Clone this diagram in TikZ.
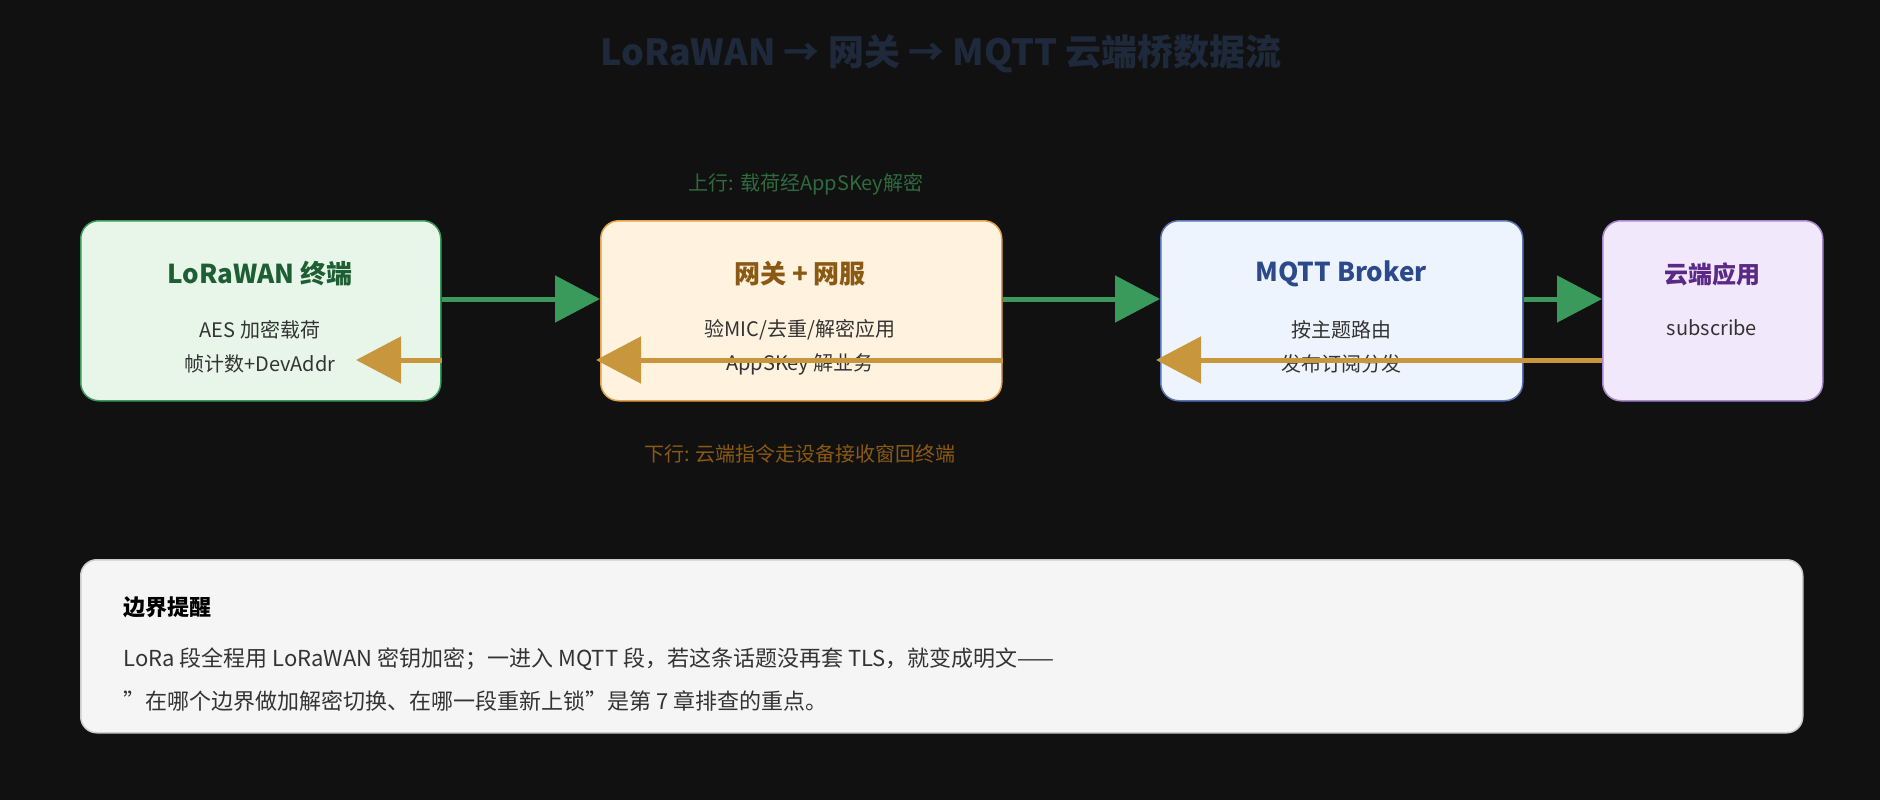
\documentclass[tikz,border=0pt]{standalone}
\usepackage{fontspec}
\setmainfont{Noto Sans CJK SC}
\usetikzlibrary{arrows.meta}
\definecolor{bg}{HTML}{111111}
\definecolor{ttl}{HTML}{1E293B}
\definecolor{txt}{HTML}{333333}
\definecolor{gA}{HTML}{E8F6EA}\definecolor{gB}{HTML}{3A9A5C}\definecolor{gC}{HTML}{1D5E32}
\definecolor{oA}{HTML}{FFF2DF}\definecolor{oB}{HTML}{E2A24A}\definecolor{oC}{HTML}{8A5A14}
\definecolor{bA}{HTML}{EEF4FD}\definecolor{bB}{HTML}{5A74B4}\definecolor{bC}{HTML}{2C4A8A}
\definecolor{pA}{HTML}{F1E8FB}\definecolor{pB}{HTML}{A888CC}\definecolor{pC}{HTML}{5B2A86}
\definecolor{up}{HTML}{3A9A5C}\definecolor{dn}{HTML}{C8963C}
\definecolor{upT}{HTML}{2E6B3E}\definecolor{dnT}{HTML}{8A5A14}
\tikzset{
 box/.style={draw, line width=1.5pt, rounded corners=18pt, anchor=north west, inner sep=0pt},
 upar/.style={draw=up, line width=5pt, -{Triangle[length=45pt,width=46pt]}},
 dnar/.style={draw=dn, line width=5pt, -{Triangle[length=45pt,width=46pt]}},
}
\begin{document}
\begin{tikzpicture}[x=1pt,y=-1pt]
\fill[bg] (0,0) rectangle (1880,800);
\useasboundingbox (0,0) rectangle (1880,800);
\node (title) at (941,54) {\fontsize{36}{40}\selectfont\bfseries\color{ttl}LoRaWAN → 网关 → MQTT 云端桥数据流};
\node (uplbl) at (806,184) {\fontsize{20}{24}\selectfont\color{upT}上行: 载荷经AppSKey解密};
\node (dnlbl) at (800,454) {\fontsize{20}{24}\selectfont\color{dnT}下行: 云端指令走设备接收窗回终端};
% boxes
\node[box, draw=gB, fill=gA, minimum width=360pt, minimum height=180pt] (b1) at (80,220) {};
\node[box, draw=oB, fill=oA, minimum width=401pt, minimum height=180pt] (b2) at (600,220) {};
\node[box, draw=bB, fill=bA, minimum width=362pt, minimum height=180pt] (b3) at (1160,220) {};
\node[box, draw=pB, fill=pA, minimum width=220pt, minimum height=180pt] (b4) at (1602,220) {};
\node (t1) at (260,274) {\fontsize{26}{30}\selectfont\bfseries\color{gC}LoRaWAN 终端};
\node[align=center, text=txt, font=\fontsize{20}{34}\selectfont] (s1) at (260,347) {AES 加密载荷\\帧计数+DevAddr};
\node (t2) at (800,274) {\fontsize{26}{30}\selectfont\bfseries\color{oC}网关 + 网服};
\node[align=center, text=txt, font=\fontsize{20}{34}\selectfont] (s2) at (800,347) {验MIC/去重/解密应用\\AppSKey 解业务};
\node (t3) at (1341,274) {\fontsize{26}{30}\selectfont\bfseries\color{bC}MQTT Broker};
\node[align=center, text=txt, font=\fontsize{20}{34}\selectfont] (s3) at (1341,347) {按主题路由\\发布订阅分发};
\node (t4) at (1712,274) {\fontsize{24}{28}\selectfont\bfseries\color{pC}云端应用};
\node[text=txt, font=\fontsize{20}{24}\selectfont] (s4) at (1712,328) {subscribe};
% arrows
\coordinate (d1) at (356,360);
\draw[upar] (b1.east |- 0,299) -- (b2.west |- 0,299);
\draw[upar] (b2.east |- 0,299) -- (b3.west |- 0,299);
\draw[upar] (b3.east |- 0,299) -- (b4.west |- 0,299);
\draw[dnar] (b2.east |- 0,360) -- ([xshift=-4pt]b2.west |- 0,360);
\draw[dnar] (b4.west |- 0,360) -- ([xshift=-4pt]b3.west |- 0,360);
\draw[dnar] (b1.east |- 0,360) -- (d1);
% note
\node[box, draw=black!20, fill=black!4, rounded corners=16pt, minimum width=1722pt, minimum height=173pt] (note) at (80,559) {};
\node[anchor=west, font=\fontsize{22}{26}\selectfont\bfseries, text=black] (nt) at (120,607) {边界提醒};
\node[anchor=west, font=\fontsize{22}{26}\selectfont, text=txt] (n1) at (120,659) {LoRa 段全程用 LoRaWAN 密钥加密；一进入 MQTT 段，若这条话题没再套 TLS，就变成明文——};
\node[anchor=west, font=\fontsize{22}{26}\selectfont, text=txt] (n2) at (120,701) {"在哪个边界做加解密切换、在哪一段重新上锁"是第 7 章排查的重点。};
\end{tikzpicture}
\end{document}
